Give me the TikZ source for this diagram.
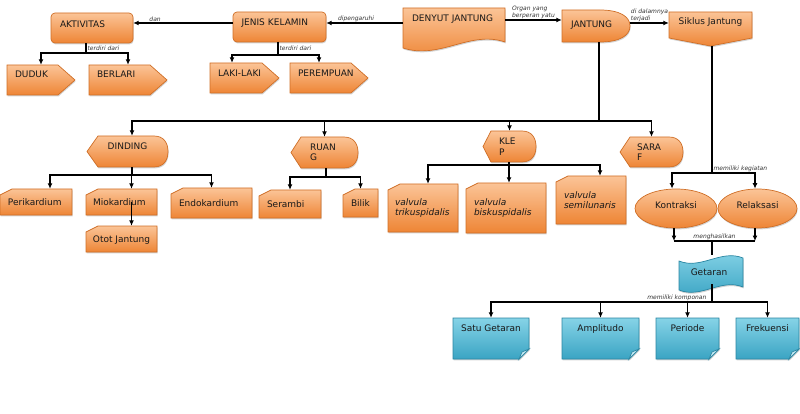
\documentclass[tikz,border=0pt]{standalone}
\usepackage{fontspec}
\setmainfont{DejaVu Sans}
\usetikzlibrary{arrows.meta,shapes.geometric,shadows}
\definecolor{otop}{HTML}{FBC497}
\definecolor{obot}{HTML}{EE8535}
\definecolor{oline}{HTML}{CF6E26}
\definecolor{btop}{HTML}{86D3E7}
\definecolor{bbot}{HTML}{3AA4C3}
\definecolor{bline}{HTML}{2B86A2}
\tikzset{
	obox/.style={draw=oline, line width=0.7pt, top color=otop, bottom color=obot,
		drop shadow={shadow xshift=0.6pt, shadow yshift=-1.4pt, opacity=0.35}},
	bbox/.style={draw=bline, line width=0.7pt, top color=btop, bottom color=bbot,
		drop shadow={shadow xshift=0.6pt, shadow yshift=-1.4pt, opacity=0.35}},
	txt/.style={font=\fontsize{9}{10.5}\selectfont, text=black!90, inner sep=0pt, align=center},
	ital/.style={font=\fontsize{9}{9.5}\selectfont\itshape},
	lbl/.style={font=\fontsize{6}{7}\selectfont\itshape, text=black!80, inner sep=1pt, align=left},
	sz/.style 2 args={minimum width=#1, minimum height=#2},
	lift/.style={text height=6.5pt, text depth=#1},
	ln/.style={line width=1.1pt},
	arr/.style={ln, -{Latex[length=5.5pt, width=5pt]}},
}
% box outlines, corners given as (left,top)(right,bottom)
\def\rbox(#1,#2)(#3,#4){\draw[obox, rounded corners=4pt] (#1,#2) rectangle (#3,#4);}
\def\sigbox(#1,#2)(#3,#4){\draw[obox] (#1,#2) -- ({#3-17},#2) -- (#3,{(#2+#4)/2}) -- ({#3-17},#4) -- (#1,#4) -- cycle;}
\def\cardbox(#1,#2)(#3,#4){\draw[obox] ({#1+12},#2) -- (#3,#2) -- (#3,#4) -- (#1,#4) -- (#1,{#2+6}) -- cycle;}
\def\halfbox(#1,#2)(#3,#4)#5#6{\draw[obox] (#1,{(#2+#4)/2}) -- ({#1+#5},#2) -- ({#3-#6},#2) .. controls ({#3-#6*0.35},#2) and (#3,{#2+(#4-#2)*0.2}) .. (#3,{(#2+#4)/2}) .. controls (#3,{#4-(#4-#2)*0.2}) and ({#3-#6*0.35},#4) .. ({#3-#6},#4) -- ({#1+#5},#4) -- cycle;}
\def\docbox(#1,#2)(#3,#4){\draw[obox] (#1,#2) -- (#3,#2) -- (#3,{#4-6}) .. controls ({#3-35},{#4-18}) and ({#1+37},{#4+12}) .. (#1,#4) -- cycle;}
\def\offpage(#1,#2)(#3,#4){\draw[obox] (#1,#2) -- (#3,#2) -- (#3,{#4-8}) -- ({(#1+#3)/2},#4) -- (#1,{#4-8}) -- cycle;}
\def\tapebox(#1,#2)(#3,#4){\draw[bbox] (#1,{#2+6}) .. controls ({#1+22},{#2+15}) and ({#3-22},{#2-6}) .. (#3,{#2+3}) -- (#3,{#4-8}) .. controls ({#3-22},{#4-17}) and ({#1+22},{#4+4}) .. (#1,{#4-5}) -- cycle;}
\def\notebox(#1,#2)(#3,#4){\draw[bbox] (#1,#2) -- (#3,#2) -- (#3,{#4-10}) -- ({#3-10},#4) -- (#1,#4) -- cycle;
	\draw[bline, line width=0.7pt, fill=btop!50!white] ({#3-10},#4) -- ({#3-7},{#4-7}) -- (#3,{#4-10}) -- cycle;}

\begin{document}
\begin{tikzpicture}[x=1pt, y=-1pt]
	%%%%% START %%%%%
	\useasboundingbox (0,0) rectangle (800,414);
	
	% top row
	\rbox(51,13)(133,43)
	\node[txt, sz={82pt}{30pt}, lift=8pt, text width=64pt, align=left] (aktiv) at (92,28) {AKTIVITAS};
	\rbox(233,12)(326,42)
	\node[txt, sz={93pt}{30pt}, lift=10pt, text width=76pt, align=left] (jenis) at (279.5,27) {JENIS KELAMIN};
	\docbox(403,8)(505,48)
	\node[txt, sz={102pt}{40pt}, lift=20pt, text width=84pt, align=left] (denyut) at (454,28) {DENYUT JANTUNG};
	\halfbox(562,10)(630,42){0}{30}
	\node[txt, sz={68pt}{32pt}, lift=4pt, text width=50pt, align=left] (jantung) at (596,26) {JANTUNG};
	\offpage(669,12)(752,46)
	\node[txt, sz={83pt}{34pt}, lift=16pt] (siklus) at (710.5,29) {Siklus Jantung};
	
	\sigbox(7,65)(75,95)
	\node[txt, sz={68pt}{30pt}, lift=12pt, text width=52pt, align=left] (duduk) at (41,80) {DUDUK};
	\sigbox(89,65)(167,95)
	\node[txt, sz={78pt}{30pt}, lift=12pt, text width=62pt, align=left] (berlari) at (128,80) {BERLARI};
	\sigbox(210,63)(279,93)
	\node[txt, sz={69pt}{30pt}, lift=10pt, text width=53pt, align=left] (laki) at (244.5,78) {LAKI-LAKI};
	\sigbox(290,63)(368,93)
	\node[txt, sz={78pt}{30pt}, lift=10pt, text width=62pt, align=left] (perempuan) at (329,78) {PEREMPUAN};
	
	% middle row
	\halfbox(87,136)(168,167){11}{14}
	\node[txt, sz={81pt}{31pt}, lift=11pt] (dinding) at (127.5,151.5) {DINDING};
	\halfbox(291,137)(358,168){10}{14}
	\node[txt, sz={67pt}{31pt}, text width=29pt, align=left] (ruang) at (324.5,152.5) {RUAN\\G};
	\halfbox(483,131)(536,162){8}{14}
	\node[txt, sz={53pt}{31pt}, text width=21pt, align=left] (klep) at (509.5,146.5) {KLE\\P};
	\halfbox(620,137)(683,167){10}{14}
	\node[txt, sz={63pt}{30pt}, text width=29pt, align=left] (saraf) at (651.5,152) {SARA\\F};
	
	\cardbox(0,189)(72,215)
	\node[txt, sz={72pt}{26pt}, lift=0pt, text width=56pt, align=left] (peri) at (36,202) {Perikardium};
	\cardbox(86,189)(157,215)
	\node[txt, sz={71pt}{26pt}, lift=0pt, text width=57pt, align=left] (mio) at (121.5,202) {Miokardium};
	\cardbox(86,226)(157,252)
	\node[txt, sz={71pt}{26pt}, lift=0pt] (otot) at (121.5,239) {Otot Jantung};
	\cardbox(171,188)(252,218)
	\node[txt, sz={81pt}{30pt}, lift=0pt, text width=65pt, align=left] (endo) at (211.5,203) {Endokardium};
	\cardbox(259,190)(321,218)
	\node[txt, sz={62pt}{28pt}, lift=0pt, text width=46pt, align=left] (serambi) at (290,204) {Serambi};
	\cardbox(343,189)(378,217)
	\node[txt, sz={35pt}{28pt}, lift=0pt] (bilik) at (360.5,203) {Bilik};
	\cardbox(388,184)(458,232)
	\node[txt, ital, sz={70pt}{48pt}, text width=56pt, align=left] (trik) at (423,208) {valvula\\trikuspidalis};
	\cardbox(466,183)(546,233)
	\node[txt, ital, sz={80pt}{50pt}, text width=64pt, align=left] (bisk) at (506,208) {valvula\\biskuspidalis};
	\cardbox(556,176)(626,224)
	\node[txt, ital, sz={70pt}{48pt}, text width=54pt, align=left] (semi) at (591,200) {valvula\\semilunaris};
	
	\node[obox, ellipse, txt, sz={82pt}{39pt}, lift=7pt] (kontr) at (676,208.5) {Kontraksi};
	\node[obox, ellipse, txt, sz={79pt}{39pt}, lift=7pt] (relak) at (757.5,208.5) {Relaksasi};
	
	% bottom row
	\tapebox(679,255)(743,295)
	\node[txt, sz={64pt}{40pt}, lift=5pt] (getaran) at (709,275) {Getaran};
	\notebox(453,318)(529,359)
	\node[txt, sz={76pt}{41pt}, lift=20pt] (satu) at (491,338.5) {Satu Getaran};
	\notebox(562,318)(639,359)
	\node[txt, sz={77pt}{41pt}, lift=20pt] (ampl) at (600.5,338.5) {Amplitudo};
	\notebox(656,318)(719,359)
	\node[txt, sz={63pt}{41pt}, lift=20pt] (period) at (687.5,338.5) {Periode};
	\notebox(736,318)(799,359)
	\node[txt, sz={63pt}{41pt}, lift=20pt] (frek) at (767.5,338.5) {Frekuensi};
	
	% connectors
	\draw[arr] ([yshift=4pt]jenis.west) -- ([yshift=4pt]jenis.west -| aktiv.east) node[lbl, pos=0.78, above] {dan};
	\draw[arr] ([yshift=5pt]denyut.west) -- ([yshift=5pt]denyut.west -| jenis.east) node[lbl, pos=0.61, above] {dipengaruhi};
	\draw[arr] ([yshift=8pt]denyut.east) -- ([yshift=8pt]denyut.east -| jantung.west) node[lbl, midway, above] {Organ yang\\berperan yatu};
	\draw[arr] ([yshift=3pt]jantung.east) -- ([yshift=3pt]jantung.east -| siklus.west) node[lbl, midway, above] {di dalamnya\\terjadi};
	
	\coordinate (ak) at (86,53);
	\draw[ln] ([xshift=-6pt]aktiv.south) -- node[lbl, right] {terdiri dari} (ak);
	\draw[arr] (ak) -| (duduk.north);
	\draw[arr] (ak) -| (berlari.north);
	
	\coordinate (jk) at (278,55);
	\draw[ln] ([xshift=-1.5pt]jenis.south) -- node[lbl, right] {terdiri dari} (jk);
	\draw[arr] (jk) -| ([xshift=-12.5pt]laki.north);
	\draw[arr] (jk) -| ([xshift=-10pt]perempuan.north);
	
	\coordinate (jt) at (599,121);
	\draw[ln] ([xshift=3pt]jantung.south) -- (jt);
	\draw[arr] (jt) -| ([xshift=4.5pt]dinding.north);
	\draw[arr] (jt) -| (ruang.north);
	\draw[arr] (jt) -| (klep.north);
	\draw[arr] (jt) -| (saraf.north);
	
	\coordinate (dd) at (132,175);
	\draw[ln] ([xshift=4.5pt]dinding.south) -- (dd);
	\draw[arr] (dd) -| ([xshift=14pt]peri.north);
	\draw[arr] (dd) -| ([xshift=10pt]mio.north);
	\draw[arr] (dd) -| (endo.north);
	\draw[arr] ([xshift=10pt]mio.center) -- ([xshift=10pt]otot.north);
	
	\coordinate (rg) at (326,177);
	\draw[ln] ([xshift=1.5pt]ruang.south) -- (rg);
	\draw[arr] (rg) -| (serambi.north);
	\draw[arr] (rg) -| (bilik.north);
	
	\coordinate (kl) at (509,165);
	\draw[ln] ([xshift=-0.5pt]klep.south) -- (kl);
	\draw[arr] (kl) -| ([xshift=5pt]trik.north);
	\draw[arr] (kl) -| ([xshift=3pt]bisk.north);
	\draw[arr] (kl) -| ([xshift=9pt]semi.north);
	
	\coordinate (sk) at (712,173);
	\draw[ln] ([xshift=1.5pt]siklus.south) -- (sk);
	\draw[arr] (sk) -| ([xshift=-4pt]kontr.north);
	\draw[arr] (sk) -| ([xshift=-2.5pt]relak.north) node[lbl, pos=0.33, above] {memiliki kegiatan};
	
	\coordinate (mh) at (712,241);
	\draw[arr] ([xshift=-2pt]kontr.south) -- ([xshift=-2pt]kontr.south |- mh);
	\draw[arr] ([xshift=-2.5pt]relak.south) -- ([xshift=-2.5pt]relak.south |- mh);
	\draw[ln] ([xshift=-2pt]kontr.south |- mh) -- ([xshift=-2.5pt]relak.south |- mh) node[lbl, midway, above] {menghasilkan};
	\draw[ln] (mh) -- (mh |- getaran.north);
	
	\coordinate (gt) at (712,302);
	\draw[ln] ([xshift=3pt, yshift=-9pt]getaran.center) -- (gt) node[lbl, above left, xshift=-4pt] {memiliki komponan};
	\draw[arr] (gt) -| (satu.north);
	\draw[arr] (gt) -| (ampl.north);
	\draw[arr] (gt) -| (period.north);
	\draw[arr] (gt) -| (frek.north);
	
	%%%%% END %%%%%
\end{tikzpicture}
\end{document}
